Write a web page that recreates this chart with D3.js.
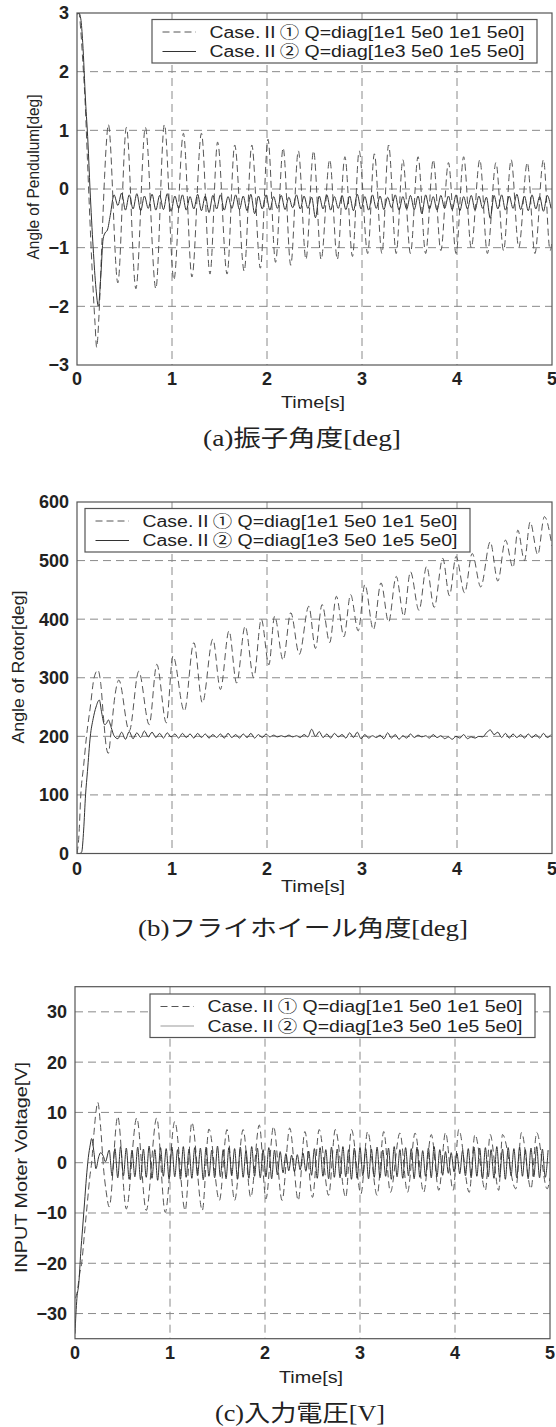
<!DOCTYPE html>
<html><head><meta charset="utf-8">
<script src="https://cdn.jsdelivr.net/npm/d3@7"></script>
<style>body{margin:0;background:#fff}svg{display:block}</style>
</head><body>
<svg id="chart" width="556" height="1427"></svg>
<script>
// ---------------- DATA ----------------
const timeTicks = [0, 1, 2, 3, 4, 5];
const yTicksA = [-3, -2, -1, 0, 1, 2, 3];
const yTicksB = [0, 100, 200, 300, 400, 500, 600];
const yTicksC = [-30, -20, -10, 0, 10, 20, 30];
const legendLabels = ["Case.Ⅱ① Q=diag[1e1 5e0 1e1 5e0]", "Case.Ⅱ② Q=diag[1e3 5e0 1e5 5e0]"];
const captions = ["(a)振子角度[deg]", "(b)フライホイール角度[deg]", "(c)入力電圧[V]"];
const yTitles = ["Angle of Pendulum[deg]", "Angle of Rotor[deg]", "INPUT Moter Voltage[V]"];
const xTitle = "Time[s]";

// (a) pendulum angle, Case II-1 (dashed): times / values of turning points
const tA1 = [0,0.02,0.04,0.06,0.085,0.11,0.13,0.16,0.19,0.207,0.23,0.26,0.29,0.31,0.33,
  0.43,0.52,0.62,0.72,0.83,0.92,1.02,1.12,1.21,1.31,1.40,1.48,1.58,1.66,1.76,1.84,1.93,2.01,2.09,2.17,
  2.25,2.33,2.41,2.49,2.57,2.66,2.74,2.82,2.90,2.97,3.06,3.13,3.21,3.28,3.36,3.43,3.51,3.59,3.67,3.75,
  3.83,3.91,3.99,4.07,4.15,4.24,4.32,4.41,4.49,4.57,4.65,4.74,4.82,4.91,4.98,5.0];
const vA1 = [2.98,3.0,2.7,2.2,1.5,0.5,-0.3,-1.4,-2.3,-2.7,-2.2,-1.0,0.2,0.8,1.1,
  -1.6,1.05,-1.7,1.05,-1.7,1.1,-1.55,0.95,-1.5,0.95,-1.45,0.8,-1.45,0.75,-1.4,0.75,-1.35,0.85,-1.25,0.7,
  -1.3,0.65,-1.2,0.65,-1.2,0.5,-1.2,0.55,-1.15,0.65,-1.1,0.6,-1.1,0.75,-1.1,0.5,-1.1,0.55,-1.1,0.5,
  -1.05,0.45,-1.1,0.55,-1.0,0.5,-1.1,0.45,-1.05,0.5,-1.0,0.45,-1.1,0.5,-1.05,-0.9];
// (a) Case II-2 (solid): transient, then samples every 0.04 s from 0.43 s
const tA2start = [0,0.02,0.04,0.06,0.09,0.115,0.137,0.17,0.2,0.225,0.25,0.275,0.295,0.32,0.35,0.39];
const vA2start = [2.98,3.0,2.9,2.5,1.5,0.8,0,-1.0,-1.7,-2.0,-1.5,-0.85,-0.75,-0.7,-0.45,-0.1];
const vA2osc = [-0.28,-0.07,-0.36,-0.10,-0.34,-0.08,-0.37,-0.12,-0.33,-0.09,-0.36,-0.11,-0.35,-0.08,-0.38,
  -0.12,-0.33,-0.10,-0.36,-0.13,-0.34,-0.09,-0.37,-0.12,-0.40,-0.11,-0.34,-0.10,-0.36,-0.13,-0.33,-0.10,
  -0.35,-0.12,-0.37,-0.09,-0.42,-0.12,-0.34,-0.10,-0.36,-0.13,-0.33,-0.11,-0.35,-0.14,-0.32,-0.10,-0.34,
  -0.12,-0.33,-0.14,-0.49,-0.12,-0.34,-0.10,-0.36,-0.13,-0.33,-0.11,-0.35,-0.12,-0.37,-0.09,-0.34,-0.13,
  -0.36,-0.10,-0.33,-0.12,-0.35,-0.14,-0.32,-0.10,-0.36,-0.13,-0.34,-0.11,-0.35,-0.12,-0.42,-0.10,-0.34,
  -0.13,-0.36,-0.11,-0.33,-0.12,-0.35,-0.10,-0.37,-0.13,-0.34,-0.11,-0.36,-0.12,-0.33,-0.14,-0.50,-0.11,
  -0.34,-0.10,-0.36,-0.12,-0.33,-0.09,-0.35,-0.12,-0.37,-0.10,-0.34,-0.13,-0.38,-0.11,-0.33];

// (b) rotor angle, Case II-1 (dashed)
const tB1 = [0,0.02,0.04,0.07,0.1,0.14,0.18,0.22,0.25,0.28,0.31,0.33,0.36,0.4,0.44,
  0.55,0.65,0.76,0.84,0.94,1.01,1.13,1.23,1.32,1.43,1.51,1.6,1.68,1.77,1.86,1.94,2.02,2.08,2.17,2.25,
  2.34,2.44,2.51,2.58,2.66,2.73,2.81,2.88,2.96,3.03,3.12,3.2,3.28,3.36,3.44,3.51,3.6,3.68,3.76,3.85,
  3.92,3.99,4.08,4.16,4.25,4.35,4.43,4.51,4.59,4.64,4.71,4.77,4.85,4.92,5.0];
const vB1 = [0,30,100,150,200,250,300,313,290,230,180,171,210,270,296,
  209,311,220,323,223,337,243,360,257,366,280,380,291,388,300,400,322,405,330,411,
  340,422,350,425,360,439,370,442,380,459,382,462,395,473,405,481,415,490,420,504,
  440,507,445,512,455,532,465,535,488,552,500,566,510,575,525];
// (b) Case II-2 (solid)
const tB2start = [0,0.03,0.05,0.07,0.09,0.11,0.14,0.17,0.2,0.235,0.26,0.29,0.31,0.33,0.36,0.39];
const vB2start = [0,0,3,40,100,140,200,230,250,262,240,220,222,228,215,201];
const vB2osc = [196,207,195,208,196,206,198,209,199,207,198,205,197,206,199,204,197,205,198,204,
  197,205,198,204,197,203,198,204,197,205,198,203,197,204,198,205,197,203,198,204,199,202,199,201,
  199,202,199,201,198,203,199,212,200,208,198,204,197,205,199,203,197,206,198,207,196,203,197,201,
  198,202,196,206,197,203,195,201,197,204,198,202,199,201,197,203,198,201,196,199,195,200,197,203,
  196,199,197,200,199,206,211,203,207,198,205,197,204,198,203,197,204,198,203,197,205,198,203];

// (c) input voltage, Case II-1 (dashed)
const tC1 = [0,0.02,0.05,0.07,0.1,0.13,0.155,0.175,0.2,0.22,0.24,0.27,0.3,0.33,0.36,
  0.45,0.54,0.65,0.75,0.86,0.95,1.05,1.16,1.23,1.34,1.41,1.52,1.6,1.68,1.77,1.85,1.94,2.01,2.09,2.18,
  2.26,2.35,2.42,2.5,2.57,2.67,2.74,2.85,2.91,3.01,3.08,3.18,3.25,3.32,3.42,3.5,3.58,3.67,3.75,3.83,
  3.9,3.98,4.04,4.15,4.21,4.32,4.37,4.46,4.5,4.64,4.7,4.8,4.86,4.97,5.0];
const vC1 = [-27,-26,-22,-20,-14,-8,-3,0,6,10,12,7,-1,-6,-8.8,
  9.2,-9.2,8.9,-9.5,8.9,-9.9,8.2,-9.5,8.0,-9.5,6.7,-7.5,6.6,-7.5,6.6,-6.9,7.5,-7.2,7.2,-7.5,
  6.9,-7.5,6.2,-6.9,6.6,-6.5,6.6,-6.9,6.6,-6.2,6.2,-6.5,6.2,-5.9,5.9,-5.9,5.9,-5.9,5.6,-5.5,
  6.0,-5.5,6.6,-5.9,5.6,-5.5,5.6,-5.5,5.6,-5.2,6.0,-5.2,6.0,-5.2,-3];
// (c) Case II-2 (solid): transient, then samples every 0.03 s from 0.42 s
const tC2start = [0,0.01,0.02,0.04,0.06,0.08,0.1,0.12,0.14,0.16,0.175,0.2,0.22,0.25,0.27,0.3,0.32,0.36,0.39];
const vC2start = [-34,-30,-27,-24,-18,-13,-8,-3,1,3.5,4.8,2,-1.2,1.2,2.0,1.2,0.2,2.5,-2.6];
const vC2osc = [2.8,-3.0,3.2,-2.6,2.9,-3.3,2.5,-2.8,3.1,-3.4,
  2.7,-2.9,3.3,-3.1,2.6,-3.5,3.0,-2.7,2.8,-3.2,
  3.1,-2.8,2.6,-3.3,3.2,-2.9,2.7,-3.1,3.0,-2.6,
  2.9,-3.4,3.1,-2.7,2.5,-3.0,3.3,-2.8,2.6,-3.2,
  3.0,-2.6,2.8,-3.3,3.1,-2.9,2.4,-3.1,3.2,-2.7,
  2.9,-3.0,2.6,-2.8,3.0,-3.2,2.5,-2.4,2.2,-2.0,
  1.8,-1.6,1.5,-1.8,1.6,-1.4,1.9,-1.7,2.3,-2.5,
  2.8,-3.1,3.0,-2.7,2.6,-3.2,3.1,-2.9,2.7,-3.0,
  3.2,-2.8,2.6,-3.3,2.9,-3.1,3.0,-2.6,2.8,-3.2,
  2.7,-2.9,3.1,-3.0,2.5,-2.7,2.9,-3.3,3.2,-2.8,
  2.6,-3.1,3.0,-2.6,2.8,-3.2,3.1,-2.9,2.4,-2.7,
  2.9,-3.0,3.2,-2.8,2.6,-2.5,2.2,-2.1,2.0,-1.8,
  1.9,-2.2,2.4,-2.6,2.8,-3.0,3.1,-2.7,2.9,-3.2,
  3.0,-2.8,2.6,-3.1,3.2,-2.9,2.7,-3.3,3.0,-2.6,
  2.8,-3.0,3.1,-2.7,2.6,-3.2,2.9,-2.8,3.2,-3.0,
  2.7,-2.9,2.5];

// ---------------- HELPERS ----------------
const zip = (t, v) => t.map((d, i) => [d, v[i]]);
const grid = (start, step, n) => d3.range(n).map(i => +(start + i * step).toFixed(4));
const seriesA1 = zip(tA1, vA1);
const seriesA2 = zip(tA2start.concat(grid(0.43, 0.04, vA2osc.length)), vA2start.concat(vA2osc));
const seriesB1 = zip(tB1, vB1);
const seriesB2 = zip(tB2start.concat(grid(0.43, 0.04, vB2osc.length)), vB2start.concat(vB2osc));
const seriesC1 = zip(tC1, vC1);
const seriesC2 = zip(tC2start.concat(grid(0.42, 0.03, vC2osc.length)), vC2start.concat(vC2osc));

const svg = d3.select("#chart");
const tickFont = "'Liberation Sans', Arial, sans-serif";
const legendFont = "'Liberation Sans', 'Noto Sans CJK JP', sans-serif";
const serifFont = "'Liberation Serif', 'Noto Sans CJK JP', serif";

function panel(cfg, idx) {
  const x = d3.scaleLinear().domain([0, 5]).range([cfg.x0, cfg.x1]);
  const y = d3.scaleLinear().domain(cfg.domain).range([cfg.y1, cfg.y0]);
  const g = svg.append("g");
  const clipId = "clip" + idx;
  g.append("clipPath").attr("id", clipId).append("rect")
    .attr("x", cfg.x0).attr("y", cfg.y0).attr("width", cfg.x1 - cfg.x0).attr("height", cfg.y1 - cfg.y0);

  // grid
  g.append("g").selectAll("line").data(cfg.yTicks.filter(v => v > cfg.domain[0] && v < cfg.domain[1]))
    .join("line").attr("x1", cfg.x0).attr("x2", cfg.x1).attr("y1", d => y(d)).attr("y2", d => y(d))
    .attr("stroke", "#8a8a8a").attr("stroke-width", 1).attr("stroke-dasharray", "8,5");
  g.append("g").selectAll("line").data(timeTicks.filter(v => v > 0 && v < 5))
    .join("line").attr("y1", cfg.y0).attr("y2", cfg.y1).attr("x1", d => x(d)).attr("x2", d => x(d))
    .attr("stroke", "#8a8a8a").attr("stroke-width", 1).attr("stroke-dasharray", "8,5");

  const line = d3.line().x(d => x(d[0])).y(d => y(d[1])).curve(d3.curveMonotoneX);
  const dg = g.append("g").attr("clip-path", `url(#${clipId})`);
  dg.append("path").attr("d", line(cfg.dashed)).attr("fill", "none")
    .attr("stroke", "#555").attr("stroke-width", 1).attr("stroke-dasharray", "7,4");
  dg.append("path").attr("d", line(cfg.solid)).attr("fill", "none")
    .attr("stroke", "#333").attr("stroke-width", 1);

  // axes box
  g.append("rect").attr("x", cfg.x0).attr("y", cfg.y0).attr("width", cfg.x1 - cfg.x0).attr("height", cfg.y1 - cfg.y0)
    .attr("fill", "none").attr("stroke", "#555").attr("stroke-width", 1.2);

  // y tick labels
  g.append("g").selectAll("text").data(cfg.yTicks).join("text")
    .attr("x", cfg.x0 - 8).attr("y", d => y(d)).attr("dy", "0.36em")
    .attr("text-anchor", "end").attr("font-family", tickFont).attr("font-weight", "bold")
    .attr("font-size", 18).attr("fill", "#222").text(d => d3.format("")(d));
  // x tick labels
  g.append("g").selectAll("text").data(timeTicks).join("text")
    .attr("x", d => x(d)).attr("y", cfg.y1 + cfg.xlabOff).attr("dy", "0.36em")
    .attr("text-anchor", "middle").attr("font-family", tickFont).attr("font-weight", "bold")
    .attr("font-size", 18).attr("fill", "#222").text(d => d);

  // x title
  g.append("text").attr("x", cfg.timeX).attr("y", cfg.timeY).attr("dy", "0.36em")
    .attr("text-anchor", "middle").attr("font-family", tickFont).attr("font-size", 17)
    .attr("fill", "#222").attr("textLength", 64).attr("lengthAdjust", "spacingAndGlyphs").text(xTitle);
  // y title
  g.append("text").attr("transform", `translate(${cfg.yl.cx},${cfg.yl.cy}) rotate(-90)`)
    .attr("dy", "0.36em").attr("text-anchor", "middle").attr("font-family", tickFont)
    .attr("font-size", 17).attr("fill", "#222")
    .attr("textLength", cfg.yl.len).attr("lengthAdjust", "spacingAndGlyphs").text(yTitles[idx]);

  // legend
  const L = cfg.legend;
  const lg = g.append("g");
  lg.append("rect").attr("x", L.left).attr("y", L.top).attr("width", 385).attr("height", 43.5)
    .attr("fill", "#fff").attr("stroke", "#555").attr("stroke-width", 1.2);
  [0, 1].forEach(i => {
    const yy = L.top + (i === 0 ? 12.5 : 32);
    lg.append("line").attr("x1", L.left + 10.5).attr("x2", L.left + 44).attr("y1", yy).attr("y2", yy)
      .attr("stroke", i === 0 ? "#555" : (cfg.solidLegendColor || "#333")).attr("stroke-width", 1)
      .attr("stroke-dasharray", i === 0 ? "7,4" : null);
    lg.append("text").attr("x", L.left + 57.5).attr("y", yy).attr("dy", "0.36em")
      .attr("font-family", legendFont).attr("font-size", 16).attr("fill", "#222")
      .attr("textLength", 315).attr("lengthAdjust", "spacingAndGlyphs").text(legendLabels[i]);
  });

  // caption
  g.append("text").attr("x", cfg.cap.x).attr("y", cfg.cap.y).attr("dy", "0.36em")
    .attr("text-anchor", "middle").attr("font-family", serifFont).attr("font-size", 23)
    .attr("fill", "#222").attr("textLength", cfg.cap.len).attr("lengthAdjust", "spacingAndGlyphs")
    .text(captions[idx]);
}

panel({x0: 77, x1: 552, y0: 13, y1: 365, domain: [-3, 3], yTicks: yTicksA,
  dashed: seriesA1, solid: seriesA2, xlabOff: 14, timeX: 313, timeY: 402,
  yl: {cx: 33, cy: 177, len: 165}, legend: {left: 152, top: 19.5},
  cap: {x: 302, y: 438, len: 198}}, 0);
panel({x0: 77, x1: 552, y0: 502, y1: 853.5, domain: [0, 600], yTicks: yTicksB,
  dashed: seriesB1, solid: seriesB2, xlabOff: 15, timeX: 313, timeY: 886,
  yl: {cx: 18, cy: 667, len: 153}, legend: {left: 85, top: 508.5},
  cap: {x: 303, y: 928, len: 330}}, 1);
panel({x0: 75, x1: 550, y0: 986.7, y1: 1338.7, domain: [-35, 35], yTicks: yTicksC,
  dashed: seriesC1, solid: seriesC2, xlabOff: 14, timeX: 311, timeY: 1377,
  yl: {cx: 21, cy: 1167.5, len: 211}, legend: {left: 150, top: 994}, solidLegendColor: "#999",
  cap: {x: 300, y: 1413, len: 170}}, 2);
</script>
</body></html>
